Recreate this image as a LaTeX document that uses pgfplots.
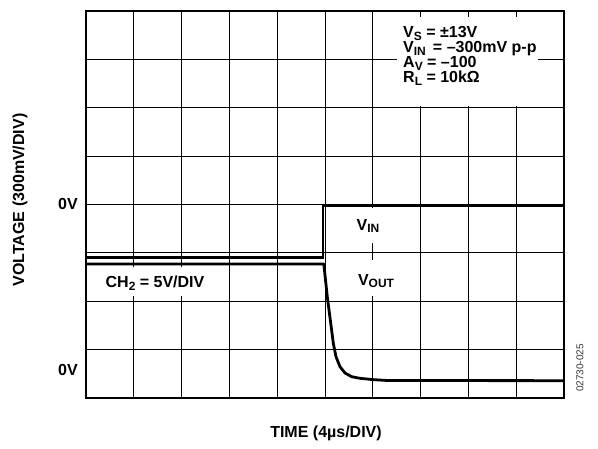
\documentclass[border=0pt]{standalone}
\usepackage{pgfplots}
\pgfplotsset{compat=1.18}
\usepackage{fontspec}
\setmainfont{Liberation Sans}
\newcommand{\sub}[1]{\raisebox{-0.3ex}{\fontsize{12}{12}\selectfont #1}}
\newcommand{\lab}{\fontsize{16}{16}\selectfont\bfseries}
\begin{document}
\begin{tikzpicture}
\useasboundingbox (0,0) rectangle (598pt,448pt);
\begin{axis}[at={(86pt,50pt)}, anchor=south west,
  width=478pt, height=387pt, scale only axis,
  xmin=0, xmax=10, ymin=0, ymax=8,
  xtick={0,...,10}, ytick={0,...,8},
  xticklabels={}, yticklabels={},
  tick style={draw=none}, major tick length=0pt,
  grid=major, grid style={black, line width=0.8pt},
  axis line style={line width=1.6pt},
  clip=false]
% V_IN
\addplot[black, line width=2.8pt, line join=miter] coordinates {
  (0,2.90) (4.96,2.90) (4.96,3.97) (10,3.97)};
% V_OUT
\addplot[black, line width=2.8pt, line join=round] coordinates {
  (0,2.77) (4.975,2.77) (5.048,2.094) (5.174,1.131) (5.23,0.854)
  (5.314,0.647) (5.418,0.517) (5.559,0.44) (5.732,0.407) (6.004,0.38)
  (6.3,0.362) (10,0.358)};
\end{axis}
\begin{scope}[yshift=448pt, x=1pt, y=-1pt]
  \fill[white] (397,17) rectangle (538,106);
  \fill[white] (350,208) rectangle (392,243);
  \fill[white] (352,260) rectangle (400,296);
  \fill[white] (98,267) rectangle (212,296);
  \node[anchor=base west, inner sep=0, font=\lab] at (403,37.5) {V\sub{S} = ±13V};
  \node[anchor=base west, inner sep=0, font=\lab] at (403,52.5) {V\sub{IN} \,= –300mV p-p};
  \node[anchor=base west, inner sep=0, font=\lab] at (403,67.5) {A\sub{V} = –100};
  \node[anchor=base west, inner sep=0, font=\lab] at (403,82.5) {R\sub{L} = 10kΩ};
  \node[inner sep=0, font=\lab] at (368,226) {V\sub{IN}};
  \node[inner sep=0, font=\lab] at (376,281) {V\sub{OUT}};
  \node[inner sep=0, font=\lab] at (155,283) {CH\sub{2} = 5V/DIV};
  \node[anchor=east, inner sep=0, font=\lab] at (78,204) {0V};
  \node[anchor=east, inner sep=0, font=\lab] at (78,370) {0V};
  \node[rotate=90, inner sep=0, font=\lab] at (20,200) {VOLTAGE (300mV/DIV)};
  \node[inner sep=0, font=\lab] at (326,433) {TIME (4µs/DIV)};
  \node[rotate=90, inner sep=0, font=\fontsize{10}{10}\selectfont, text=black!80] at (580,368) {02730-025};
\end{scope}
\end{tikzpicture}
\end{document}
